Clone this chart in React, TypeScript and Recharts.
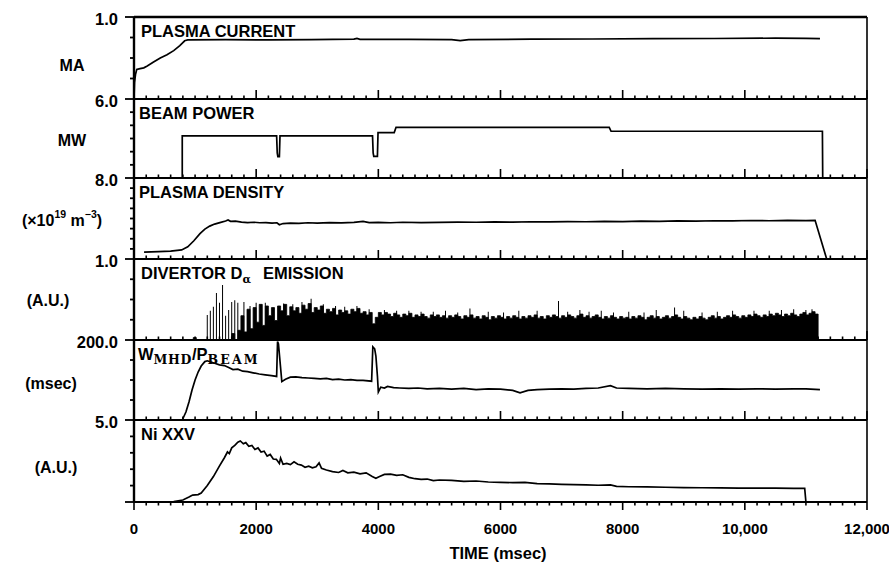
import React from 'react';
import { ComposedChart, Line, Area, Bar, XAxis, YAxis, ReferenceLine } from 'recharts';

const FONT = '"Liberation Sans", Arial, Helvetica, sans-serif';
const SERIF = '"DejaVu Serif", "Liberation Serif", serif';

// ---- time axis ----
const TIME_MAX = 12000;
const MAJOR_TIMES = [0, 2000, 4000, 6000, 8000, 10000, 12000];
const MAJOR_LABELS = ['0', '2000', '4000', '6000', '8000', '10,000', '12,000'];
const MINOR_STEP = 200;
const TIME_TICKS = Array.from({ length: TIME_MAX / MINOR_STEP + 1 }, (_, i) => i * MINOR_STEP);

// ---- vertical scales (top value of each panel, inner tick values) ----
const PANEL_MAX = [1.0, 6.0, 8.0, 1.0, 200.0, 5.0];
const PANEL_MAX_LABELS = ['1.0', '6.0', '8.0', '1.0', '200.0', '5.0'];
const PANEL_TICKS = [
  [0.25, 0.5, 0.75, 1.0],
  [1, 2, 3, 4, 5, 6],
  [1, 2, 3, 4, 5, 6, 7, 8],
  [0.25, 0.5, 0.75, 1.0],
  [50, 100, 150, 200],
  [0, 1, 2, 3, 4, 5],
];

// ---- signals: [time msec, value] ----
const PLASMA_CURRENT = [
  [0, 0], [8, 0.2], [25, 0.3], [45, 0.36], [100, 0.37], [160, 0.38], [210, 0.4], [320, 0.45],
  [430, 0.5], [540, 0.54], [650, 0.59], [750, 0.65], [830, 0.71], [880, 0.72], [1500, 0.725],
  [2200, 0.72], [2900, 0.725], [3600, 0.73], [3650, 0.74], [3700, 0.728], [4500, 0.728],
  [5200, 0.725], [5340, 0.712], [5480, 0.725], [6500, 0.73], [7500, 0.732], [8500, 0.736],
  [9500, 0.738], [10500, 0.742], [11000, 0.74], [11230, 0.736],
];

const BEAM_POWER = [
  [0, 0], [790, 0], [790, 3.2], [2335, 3.2], [2345, 1.9], [2355, 1.62], [2380, 1.62], [2390, 3.2],
  [3905, 3.2], [3915, 1.9], [3925, 1.65], [3985, 1.65], [3995, 3.45], [4260, 3.45], [4290, 3.85],
  [7780, 3.85], [7810, 3.55], [11270, 3.55], [11275, 0], [12000, 0],
];

const PLASMA_DENSITY = [
  [165, 0.67], [400, 0.72], [600, 0.78], [780, 0.9], [880, 1.2], [980, 1.8], [1080, 2.5],
  [1160, 2.95], [1240, 3.25], [1320, 3.45], [1420, 3.62], [1500, 3.75], [1540, 3.85], [1580, 3.72],
  [1660, 3.74], [1760, 3.65], [1860, 3.6], [1960, 3.63], [2060, 3.58], [2160, 3.6], [2260, 3.55],
  [2340, 3.58], [2380, 3.38], [2440, 3.5], [2560, 3.55], [2700, 3.52], [2850, 3.58], [3000, 3.55],
  [3200, 3.6], [3400, 3.56], [3600, 3.62], [3750, 3.72], [3850, 3.6], [4000, 3.62], [4200, 3.58],
  [4400, 3.63], [4700, 3.6], [5000, 3.62], [5300, 3.65], [5600, 3.63], [5900, 3.66], [6200, 3.64],
  [6500, 3.68], [6800, 3.66], [7100, 3.7], [7400, 3.68], [7700, 3.72], [8000, 3.7], [8300, 3.74],
  [8600, 3.72], [8900, 3.76], [9200, 3.74], [9500, 3.78], [9800, 3.76], [10100, 3.8], [10400, 3.78],
  [10700, 3.82], [11000, 3.8], [11150, 3.82], [11340, 0],
];

// Divertor D-alpha, in hundredths of full scale
const DALPHA_LEAD = [[0, 0], [920, 0], [970, 3], [1020, 0], [1150, 0]];
const DALPHA_T0 = 1200;
const DALPHA_DT = 50;
const DALPHA_FILL = [
  0, 0, 0, 0, 0, 0, 0, 0, 8, 0,
  12, 30, 10, 38, 14, 40, 22, 44, 18, 42,
  30, 40, 24, 42, 36, 44, 30, 41, 36, 40,
  33, 43, 38, 45, 34, 40, 37, 42, 33, 38,
  35, 39, 31, 37, 34, 36, 32, 38, 35, 39,
  33, 35, 31, 34, 20, 28, 34, 31, 34, 32,
  29, 33, 31, 28, 32, 30, 33, 28, 31, 29,
  32, 29, 27, 31, 29, 31, 28, 30, 27, 30,
  28, 31, 29, 26, 30, 28, 31, 27, 29, 26,
  30, 28, 25, 29, 27, 30, 28, 26, 29, 27,
  30, 28, 26, 29, 27, 30, 28, 31, 27, 29,
  26, 30, 28, 31, 29, 27, 30, 28, 31, 29,
  27, 30, 32, 28, 30, 27, 29, 31, 28, 26,
  29, 27, 30, 28, 26, 29, 27, 28, 26, 29,
  27, 30, 28, 25, 28, 30, 27, 29, 26, 28,
  30, 27, 29, 31, 28, 26, 29, 27, 25, 28,
  26, 29, 27, 25, 28, 30, 27, 29, 26, 28,
  30, 28, 31, 29, 27, 30, 28, 31, 29, 32,
  30, 28, 31, 29, 32, 30, 33, 31, 29, 32,
  30, 33, 31, 29, 32, 34, 31, 33, 35, 32,
  0,
];
const DALPHA_SPIKES = [
  [1200, 31], [1250, 36], [1300, 41], [1350, 58], [1400, 46], [1450, 68], [1500, 30], [1550, 37],
  [1600, 47], [1650, 49], [1700, 46], [1800, 47], [1900, 42], [2000, 46], [2150, 46], [2450, 45],
  [2600, 44], [2750, 47], [2900, 51], [3100, 44], [3300, 42], [3450, 41], [3650, 42], [3850, 38],
  [4100, 37], [4300, 36], [4500, 36], [4700, 35], [4900, 35], [5100, 36], [5300, 34], [5500, 39],
  [5800, 35], [6050, 34], [6300, 36], [6600, 36], [6950, 48], [7100, 35], [7300, 37], [7450, 35],
  [7650, 36], [7850, 34], [8100, 35], [8350, 34], [8550, 37], [8850, 40], [9000, 36], [9300, 34],
  [9550, 35], [9800, 36], [10150, 36], [10400, 36], [10600, 37], [10800, 38], [11000, 37],
  [11100, 38],
];

const W_OVER_P = [
  [790, 0], [850, 20], [900, 45], [950, 75], [1000, 100], [1050, 120], [1100, 135], [1160, 146],
  [1200, 148], [1260, 145], [1320, 142], [1400, 138], [1480, 136], [1550, 131], [1620, 126],
  [1700, 127], [1780, 122], [1860, 121], [1950, 118], [2050, 115], [2150, 113], [2250, 111],
  [2335, 109], [2350, 196], [2365, 190], [2420, 96], [2480, 102], [2560, 107], [2650, 108],
  [2750, 106], [2850, 105], [2950, 104], [3050, 103], [3150, 104], [3250, 101], [3350, 102],
  [3450, 100], [3550, 101], [3650, 99], [3750, 99], [3890, 97], [3910, 183], [3940, 178],
  [3960, 160], [3985, 110], [4000, 70], [4040, 82], [4100, 80], [4150, 84], [4250, 81],
  [4350, 80], [4500, 79], [4650, 80], [4800, 78], [5000, 79], [5200, 77], [5400, 79], [5600, 76],
  [5800, 78], [6000, 77], [6200, 74], [6320, 68], [6450, 74], [6600, 76], [6800, 77], [7000, 78],
  [7200, 77], [7400, 79], [7600, 80], [7800, 86], [7900, 80], [8100, 79], [8400, 78], [8700, 79],
  [9000, 78], [9300, 77], [9600, 78], [9900, 77], [10200, 78], [10500, 77], [10800, 78],
  [11000, 78], [11230, 76],
];

const NI_XXV = [
  [0, 0], [500, 0], [650, 0.03], [800, 0.12], [900, 0.3], [960, 0.42], [1050, 0.45], [1100, 0.55],
  [1200, 1.0], [1300, 1.55], [1400, 2.2], [1480, 2.7], [1530, 3.05], [1560, 2.95], [1600, 3.3],
  [1650, 3.45], [1700, 3.65], [1740, 3.72], [1790, 3.55], [1830, 3.62], [1880, 3.4], [1930, 3.45],
  [1980, 3.2], [2030, 3.3], [2080, 3.05], [2130, 3.1], [2180, 2.8], [2230, 2.9], [2280, 2.62],
  [2330, 2.6], [2380, 2.35], [2400, 2.68], [2440, 2.3], [2500, 2.35], [2560, 2.28], [2620, 2.45],
  [2680, 2.3], [2740, 2.25], [2800, 2.12], [2860, 2.18], [2920, 2.08], [2980, 2.15], [3030, 2.38],
  [3070, 2.05], [3150, 1.95], [3250, 1.85], [3350, 1.8], [3420, 1.92], [3500, 1.78], [3600, 1.82],
  [3700, 1.72], [3800, 1.78], [3900, 1.55], [3960, 1.45], [4020, 1.55], [4100, 1.68], [4200, 1.7],
  [4300, 1.62], [4400, 1.66], [4500, 1.5], [4600, 1.42], [4700, 1.38], [4800, 1.4], [4900, 1.3],
  [5000, 1.34], [5200, 1.32], [5400, 1.26], [5600, 1.28], [5800, 1.22], [6000, 1.2], [6200, 1.18],
  [6400, 1.2], [6600, 1.12], [6800, 1.1], [7000, 1.08], [7200, 1.06], [7400, 1.05], [7600, 1.02],
  [7800, 1.04], [7900, 0.95], [8100, 0.93], [8400, 0.92], [8700, 0.9], [9000, 0.88], [9300, 0.87],
  [9600, 0.86], [9900, 0.85], [10200, 0.84], [10500, 0.85], [10800, 0.83], [10980, 0.83], [11000, 0],
];

// ---- layout ----
const CHART_W = 889;
const PLOT_LEFT = 134;
const PLOT_RIGHT = 867;
const PANEL_TOPS = [17, 99, 178, 259, 340, 420];
const PLOT_BOTTOM = 502;
const PAD = 14;
const X_LABEL_ROOM = 60;

const toRows = (pairs: number[][]) => pairs.map(([t, v]) => ({ t, v }));

const spikeAt = new Map(DALPHA_SPIKES.map(([t, v]) => [t, v]));
const DALPHA_ROWS = [
  ...DALPHA_LEAD.map(([t, v]) => ({ t, fill: v / 100, spike: 0 })),
  ...DALPHA_FILL.map((v, i) => {
    const t = DALPHA_T0 + i * DALPHA_DT;
    return { t, fill: v / 100, spike: (spikeAt.get(t) ?? 0) / 100 };
  }),
];

const bold = { fontFamily: FONT, fontWeight: 700, fill: '#000' } as const;

function Title({ idx }: { idx: number }) {
  const y = PAD + 20;
  const x = 141;
  const common = { ...bold, fontSize: 16.5 };
  switch (idx) {
    case 0:
      return <text x={x} y={y} {...common}>PLASMA CURRENT</text>;
    case 1:
      return <text x={x - 2} y={y} {...common}>BEAM POWER</text>;
    case 2:
      return <text x={x - 2} y={y} {...common}>PLASMA DENSITY</text>;
    case 3:
      return (
        <text x={x} y={y} {...common}>
          DIVERTOR D
          <tspan dy={4} fontSize={11} fontFamily={SERIF}>α</tspan>
          <tspan dy={-4} dx={12}>EMISSION</tspan>
        </text>
      );
    case 4:
      return (
        <text x={x - 3} y={y} {...common}>
          W
          <tspan dy={4} fontSize={12.5} fontFamily={SERIF} letterSpacing={0.6}>MHD</tspan>
          <tspan dy={-4}>/P</tspan>
          <tspan dy={4} fontSize={12.5} fontFamily={SERIF} letterSpacing={2.2}>BEAM</tspan>
        </text>
      );
    default:
      return <text x={x} y={y} {...common}>Ni XXV</text>;
  }
}

const UNIT_POS = [
  [72, 65], [72, 140], [62, 220], [48, 300], [51, 383], [56, 467],
];

function Unit({ idx }: { idx: number }) {
  const top = PANEL_TOPS[idx] - PAD;
  const [cx, cy] = UNIT_POS[idx];
  const p = { ...bold, fontSize: 16, textAnchor: 'middle' as const, dominantBaseline: 'central' as const };
  const y = cy - top;
  switch (idx) {
    case 0:
      return <text x={cx} y={y} {...p}>MA</text>;
    case 1:
      return <text x={cx} y={y} {...p}>MW</text>;
    case 2:
      return (
        <text x={cx} y={y} {...p}>
          (×10<tspan dy={-6} fontSize={10.5}>19</tspan>
          <tspan dy={6}> m</tspan>
          <tspan dy={-6} fontSize={10.5}>−3</tspan>
          <tspan dy={6}>)</tspan>
        </text>
      );
    case 4:
      return <text x={cx} y={y} {...p}>(msec)</text>;
    default:
      return <text x={cx} y={y} {...p}>(A.U.)</text>;
  }
}

function PanelText({ idx }: { idx: number }) {
  const top = PANEL_TOPS[idx] - PAD;
  return (
    <g>
      <Title idx={idx} />
      <Unit idx={idx} />
      {idx === 5 && (
        <text x={498} y={553 - top} {...bold} fontSize={16.5} textAnchor="middle" dominantBaseline="central">
          TIME (msec)
        </text>
      )}
    </g>
  );
}

function YTick(props: any) {
  const { x, y, payload, idx } = props;
  const v = payload.value;
  const isTop = v === PANEL_MAX[idx];
  const len = isTop || v === 0 ? 9 : 4;
  return (
    <g>
      <rect x={x - len} y={y - 0.9} width={len} height={1.8} fill="#000" />
      {isTop && (
        <text x={118} y={y + 2} {...bold} fontSize={16.5} textAnchor="end" dominantBaseline="central">
          {PANEL_MAX_LABELS[idx]}
        </text>
      )}
    </g>
  );
}

// time-axis tick: short notch every 200 msec, longer notch every 2000 msec,
// pointing into the panel (or down, with a label, under the last panel)
function XTick(props: any) {
  const { x, y, payload, last } = props;
  const v = payload.value;
  const major = v % 2000 === 0;
  const len = major ? (last ? 8 : 9) : 3.5;
  const i = MAJOR_TIMES.indexOf(v);
  return (
    <g>
      <rect x={x - 0.8} y={last ? y : y - len} width={1.6} height={len} fill="#000" />
      {last && i >= 0 && (
        <text x={x} y={y + 26} {...bold} fontSize={15} textAnchor="middle" dominantBaseline="central">
          {MAJOR_LABELS[i]}
        </text>
      )}
    </g>
  );
}

const LINE_DATA = [PLASMA_CURRENT, BEAM_POWER, PLASMA_DENSITY, null, W_OVER_P, NI_XXV];

function Panel({ idx }: { idx: number }) {
  const top = PANEL_TOPS[idx];
  const bottom = idx < 5 ? PANEL_TOPS[idx + 1] : PLOT_BOTTOM;
  const h = bottom - top;
  const last = idx === 5;
  const xAxisH = last ? X_LABEL_ROOM : PAD;
  const height = PAD + h + (last ? X_LABEL_ROOM : PAD);
  const margin = { top: PAD, right: CHART_W - PLOT_RIGHT, bottom: 0, left: 0 };
  const pairs = LINE_DATA[idx];
  const data = pairs ? toRows(pairs) : DALPHA_ROWS;

  return (
    <div style={{ position: 'absolute', left: 0, top: top - PAD }}>
      <ComposedChart width={CHART_W} height={height} margin={margin} data={data}>
        <XAxis
          dataKey="t"
          type="number"
          domain={[0, TIME_MAX]}
          ticks={TIME_TICKS}
          interval={0}
          height={xAxisH}
          tickSize={0}
          tickMargin={0}
          tickLine={false}
          axisLine={{ stroke: '#000', strokeWidth: 2.2 }}
          tick={(p: any) => <XTick {...p} last={last} />}
        />
        <YAxis
          type="number"
          domain={[0, PANEL_MAX[idx]]}
          ticks={PANEL_TICKS[idx]}
          interval={0}
          width={PLOT_LEFT}
          tickSize={0}
          tickMargin={0}
          tickLine={false}
          axisLine={{ stroke: '#000', strokeWidth: 2.4 }}
          tick={(p: any) => <YTick {...p} idx={idx} />}
          label={<PanelText idx={idx} />}
        />
        <ReferenceLine x={TIME_MAX} stroke="#000" strokeWidth={1.6} />
        {idx === 0 && <ReferenceLine y={PANEL_MAX[0]} stroke="#000" strokeWidth={2.6} />}
        {pairs ? (
          <Line
            dataKey="v"
            type="linear"
            dot={false}
            stroke="#000"
            strokeWidth={1.7}
            isAnimationActive={false}
          />
        ) : null}
        {!pairs ? (
          <Area
            dataKey="fill"
            type="stepAfter"
            fill="#000"
            fillOpacity={1}
            stroke="#000"
            strokeWidth={0.8}
            isAnimationActive={false}
          />
        ) : null}
        {!pairs ? <Bar dataKey="spike" barSize={1} fill="#000" isAnimationActive={false} /> : null}
      </ComposedChart>
    </div>
  );
}

export default function App() {
  return (
    <>
      <style>{'body{margin:0;overflow:hidden;background:#fff}'}</style>
      <div style={{ position: 'relative', width: 889, height: 562, overflow: 'hidden', background: '#fff' }}>
        {[0, 1, 2, 3, 4, 5].map((i) => (
          <Panel key={i} idx={i} />
        ))}
      </div>
    </>
  );
}
